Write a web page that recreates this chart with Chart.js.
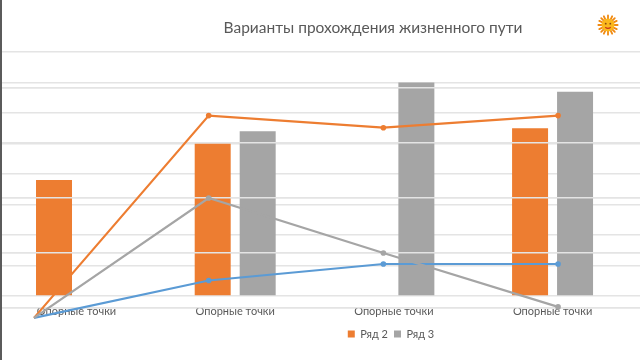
<!DOCTYPE html>
<html>
<head>
<meta charset="utf-8">
<script src="https://cdn.jsdelivr.net/npm/chart.js@4"></script>
<style>
html,body{margin:0;padding:0;background:#fff;overflow:hidden}
#edge{position:absolute;left:0;top:0;width:2px;height:360px;background:#5b5b5b}
#wrap{position:absolute;left:2px;top:0;width:638px;height:360px}
#sun{position:absolute;left:597px;top:14px;width:22px;height:22px}
</style>
</head>
<body>
<div id="edge"></div>
<div id="wrap"><canvas id="c" width="638" height="360"></canvas></div>
<svg id="sun" viewBox="0 0 24 24">
  <g stroke="#f08a12" stroke-width="2" stroke-linecap="round">
    <path d="M12 1.5V22.5M1.5 12H22.5M4.6 4.6L19.4 19.4M19.4 4.6L4.6 19.4M7.5 2.5L16.5 21.5M16.5 2.5L7.5 21.5M2.5 7.5L21.5 16.5M2.5 16.5L21.5 7.5"/>
  </g>
  <circle cx="12" cy="12" r="7" fill="#fbb81c"/>
  <circle cx="9.5" cy="10.5" r="1" fill="#8a4a10"/>
  <circle cx="14.5" cy="10.5" r="1" fill="#8a4a10"/>
  <path d="M9 14.5Q12 17 15 14.5" stroke="#c8331a" stroke-width="1.2" fill="none"/>
</svg>
<script>
const titleText = "Варианты прохождения жизненного пути";
const categories = ["Опорные точки", "Опорные точки", "Опорные точки", "Опорные точки"];
const barTicks = [0, 1, 2, 3, 4, 5, 6, 7, 8];
const lineTicks = [0, 1, 2, 3, 4];
const ryad2Bars = [3.8, 5, null, 5.5];
const ryad3Bars = [null, 5.4, 7, 6.7];
const blueLine = [-0.18, 0.5, 0.8, 0.8];
const orangeLine = [-0.18, 3.5, 3.28, 3.5];
const greyLine = [-0.18, 2, 1, 0.02];

const ORANGE = "#ED7D31", GREY = "#A5A5A5", BLUE = "#5B9BD5", GRID = "#e4e4e4", TEXT = "#595959";
const FONT = "Lato";
const pts = arr => arr.map((y, x) => ({x, y}));
const lineDs = (label, arr, color, order) => ({
  type: "line", label, data: pts(arr), xAxisID: "xLine", yAxisID: "yLine",
  borderColor: color, backgroundColor: color, borderWidth: 2.2,
  pointRadius: 2.8, pointBackgroundColor: color, pointBorderWidth: 0,
  tension: 0, clip: false, order
});
const barDs = (label, arr, color, order) => ({
  type: "bar", label, data: pts(arr), xAxisID: "xBar", yAxisID: "yBar",
  backgroundColor: color, categoryPercentage: 1.134, barPercentage: 0.8, order
});
let gridDrawn = false;
const overlay = {
  id: "overlay",
  afterLayout(chart) {
    chart.titleBlock.left += 52; chart.titleBlock.right += 52;
    chart.legend.left += 70; chart.legend.right += 70;
  },
  beforeDraw() { gridDrawn = false; },
  beforeDatasetDraw(chart, args) {
    if (!gridDrawn && args.meta.type === "line") {
      gridDrawn = true;
      chart.scales.yLine.drawGrid(chart.chartArea);
    }
  }
};
new Chart(document.getElementById("c"), {
  data: {
    datasets: [
      lineDs("Линия 3", greyLine, GREY, 1),
      lineDs("Линия 2", orangeLine, ORANGE, 2),
      lineDs("Линия 1", blueLine, BLUE, 3),
      barDs("Ряд 2", ryad2Bars, ORANGE, 4),
      barDs("Ряд 3", ryad3Bars, GREY, 5)
    ]
  },
  plugins: [overlay],
  options: {
    responsive: false,
    animation: false,
    layout: {autoPadding: false, padding: {left: 0, right: 0, top: 0, bottom: 10.5}},
    plugins: {
      tooltip: {enabled: false},
      title: {
        display: true, text: titleText, color: TEXT,
        font: {family: FONT, size: 15.5, weight: "normal", lineHeight: 1.2},
        padding: {top: 19, bottom: 14.4}
      },
      legend: {
        position: "bottom",
        labels: {
          boxWidth: 7, boxHeight: 7, padding: 6, color: TEXT,
          font: {family: FONT, size: 11},
          filter: item => item.text.startsWith("Ряд")
        }
      }
    },
    scales: {
      xBar: {
        type: "linear", position: "bottom", offset: false, min: -0.4695, max: 3.551,
        afterBuildTicks: s => { s.ticks = categories.map((_, i) => ({value: i})); },
        afterFit: s => { s.height = 14.5; },
        grid: {display: false, offset: false}, border: {display: false},
        ticks: {
          callback: v => categories[v], color: TEXT, autoSkip: false, maxRotation: 0,
          font: {family: FONT, size: 11}, padding: -11
        }
      },
      xLine: {
        type: "linear", display: false, offset: false, min: -0.1832, max: 3.469
      },
      yBar: {
        type: "linear", position: "left", min: -0.395, max: 8,
        afterBuildTicks: s => { s.ticks = barTicks.map(value => ({value})); },
        afterFit: s => { s.width = 0; },
        grid: {color: GRID, lineWidth: 1.5, drawTicks: false},
        border: {display: false},
        ticks: {display: false}
      },
      yLine: {
        type: "linear", position: "left", min: 0, max: 4.657,
        afterBuildTicks: s => { s.ticks = lineTicks.map(value => ({value})); },
        afterFit: s => { s.width = 0; },
        grid: {color: GRID, lineWidth: 1.5, drawTicks: false},
        border: {display: false},
        ticks: {display: false}
      }
    }
  }
});
</script>
</body>
</html>
